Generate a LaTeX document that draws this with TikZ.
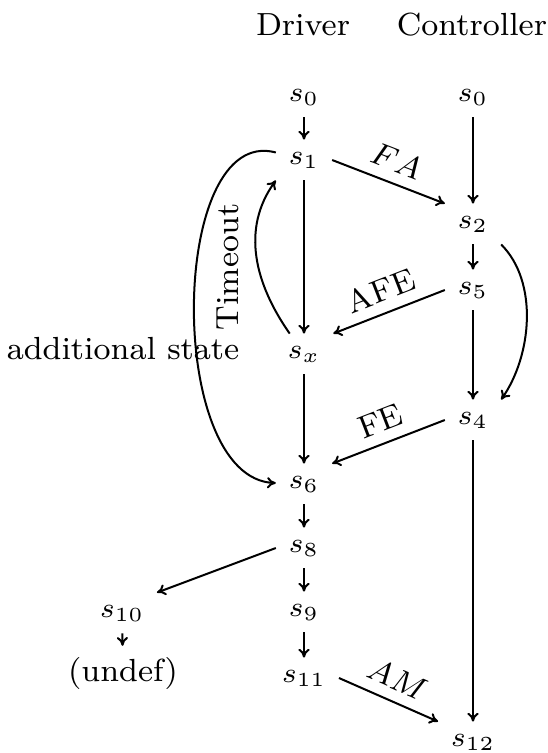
\documentclass[tikz,border=0pt]{standalone}
\usetikzlibrary{arrows.meta}
\begin{document}
\begin{tikzpicture}[x=0.25pt,y=0.25pt,
  txt/.style={font=\fontsize{8}{9.6}\selectfont, inner sep=2.6pt},
  st/.style={font=\fontsize{7}{8.4}\selectfont, inner xsep=3pt, inner ysep=2.9pt},
  edge/.style={-{To[length=2.2pt,width=2.8pt]}, line width=0.5pt},
  lab/.style={txt, midway, sloped, above}]
\useasboundingbox (0,0) rectangle (548,-753);
% headers
\node[txt, anchor=base] (hd) at (303,-35) {Driver};
\node[txt, anchor=base] (hc) at (472,-35) {Controller};
% states
\node[st] (d0) at (304,-97) {$s_0$};
\node[st] (c0) at (473,-97) {$s_0$};
\node[st] (d1) at (304,-160) {$s_1$};
\node[st] (c2) at (473,-224) {$s_2$};
\node[st] (c5) at (473,-290) {$s_5$};
\node[st] (dx) at (304,-354) {$s_x$};
\node[st] (c4) at (473,-420) {$s_4$};
\node[st] (d6) at (304,-484) {$s_6$};
\node[st] (d8) at (304,-548) {$s_8$};
\node[st] (d9) at (304,-612) {$s_9$};
\node[st] (d10) at (122,-613) {$s_{10}$};
\node[txt] (undef) at (123,-673) {(undef)};
\node[st] (d11) at (304,-678) {$s_{11}$};
\node[st] (c12) at (473,-742) {$s_{12}$};
% free labels
\node[txt, anchor=base] (addl) at (123,-359) {additional state};
\node[txt, rotate=90] (tmo) at (228,-267) {Timeout};
% edges
\draw[edge] (d0) -- (d1);
\draw[edge] (c0) -- (c2);
\draw[edge] (d1.east) -- (c2.north west) node[lab] {$FA$};
\draw[edge] (d1) -- (dx);
\draw[edge] (dx) to[out=125,in=234] (d1.south west);
\draw[edge] (d1) to[out=165,in=178,looseness=0.86] (d6);
\draw[edge] (c2) -- (c5);
\draw[edge] (c2.south east) to[out=-45,in=55,looseness=0.88] (c4.north east);
\draw[edge] (c5.west) -- (dx.north east) node[lab] {AFE};
\draw[edge] (c5) -- (c4);
\draw[edge] (c4.west) -- (d6.north east) node[lab] {FE};
\draw[edge] (dx) -- (d6);
\draw[edge] (d6) -- (d8);
\draw[edge] (d8.west) -- (d10.north east);
\draw[edge] (d8) -- (d9);
\draw[edge] (d10) -- (undef);
\draw[edge] (d9) -- (d11);
\draw[edge] (d11.east) -- (c12.north west) node[lab] {$AM$};
\draw[edge] (c4) -- (c12);
\end{tikzpicture}
\end{document}
